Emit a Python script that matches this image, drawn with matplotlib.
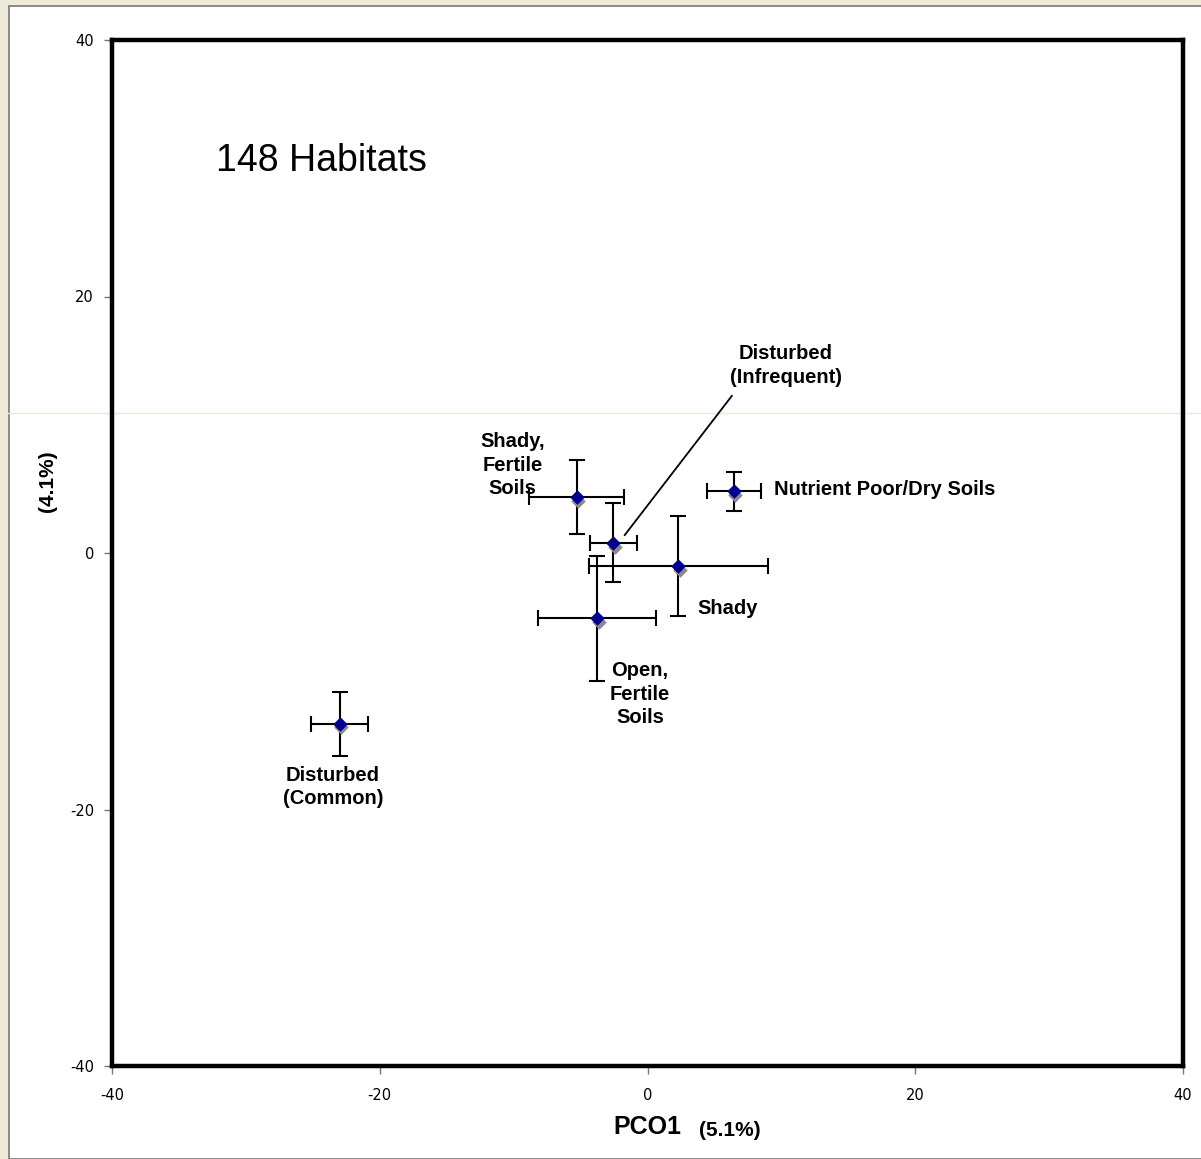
import matplotlib.pyplot as plt
from matplotlib.patches import Rectangle
from matplotlib.lines import Line2D

plt.rcParams['font.family'] = ['Liberation Sans', 'DejaVu Sans']
plt.rcParams['axes.unicode_minus'] = False

# group means and standard errors on PCO1 / PCO2
groups = ['Disturbed (Common)', 'Shady, Fertile Soils', 'Disturbed (Infrequent)',
          'Shady', 'Open, Fertile Soils', 'Nutrient Poor/Dry Soils']
pco1 = [-23.0, -5.3, -2.55, 2.3, -3.75, 6.45]
pco2 = [-13.3, 4.35, 0.8, -1.05, -5.1, 4.8]
err1 = [2.1, 3.55, 1.75, 6.7, 4.4, 2.0]
err2 = [2.5, 2.9, 3.1, 3.9, 4.9, 1.5]
ticks = [-40, -20, 0, 20, 40]

fig = plt.figure(figsize=(12.01, 11.59), dpi=100)
fig.patch.set_facecolor('#EEEADA')
fig.patches.append(Rectangle((9 / 1201, 0), 1, 1 - 6 / 1159, transform=fig.transFigure,
                             facecolor='white', edgecolor='#777777', linewidth=1.2, zorder=-2))
fig.lines.append(Line2D([0, 1], [1 - 413 / 1159] * 2, transform=fig.transFigure,
                        color='#EEEADA', linewidth=1, zorder=-1))

ax = fig.add_axes([112 / 1201, 1 - 1066 / 1159, 1071 / 1201, 1026 / 1159])
ax.set_facecolor('none')

ax.errorbar(pco1, pco2, xerr=err1, yerr=err2, fmt='none', ecolor='black',
            elinewidth=1.5, capsize=6, capthick=1.5, zorder=2)
# grey drop shadow behind the diamonds
ax.scatter([x + 0.12 for x in pco1], [y - 0.3 for y in pco2], marker='D', s=55,
           color='#8a8a8a', linewidths=0, zorder=3)
ax.scatter(pco1, pco2, marker='D', s=55, color='#000090', linewidths=0, zorder=4)

ax.set_xlim(-40, 40)
ax.set_ylim(-40, 40)
ax.set_xticks(ticks)
ax.set_yticks(ticks)
ax.tick_params(labelsize=10.5, length=6, width=1, color='#777777')
ax.tick_params(axis='x', pad=10)
ax.tick_params(axis='y', pad=7)
for lbl in ax.get_xticklabels() + ax.get_yticklabels():
    lbl.set_family('DejaVu Sans')
for s in ax.spines.values():
    s.set_linewidth(3.2)
    s.set_color('black')

lab = dict(fontsize=14.5, fontweight='bold', linespacing=1.32)
ax.text(-10.1, 6.85, 'Shady,\nFertile\nSoils', ha='center', va='center', **lab)
ax.text(10.35, 14.6, 'Disturbed\n(Infrequent)', ha='center', va='center', **lab)
ax.text(9.45, 4.95, 'Nutrient Poor/Dry Soils', ha='left', va='center', **lab)
ax.text(6.0, -4.35, 'Shady', ha='center', va='center', **lab)
ax.text(-0.55, -11.0, 'Open,\nFertile\nSoils', ha='center', va='center', **lab)
ax.text(-23.5, -18.25, 'Disturbed\n(Common)', ha='center', va='center', **lab)
ax.plot([-1.7, 6.3], [1.4, 12.25], color='black', linewidth=1.3, zorder=2)

ax.text(-32.2, 30.55, '148 Habitats', ha='left', va='center', fontsize=27)

fig.text(647 / 1201, 1 - 1127 / 1159, 'PCO1', ha='center', va='center',
         fontsize=18, fontweight='bold')
fig.text(730 / 1201, 1 - 1130 / 1159, '(5.1%)', ha='center', va='center',
         fontsize=15, fontweight='bold')
fig.text(47 / 1201, 1 - 481 / 1159, '(4.1%)', ha='center', va='center',
         fontsize=15, fontweight='bold', rotation=90)

fig.savefig('out.png', dpi=100, facecolor=fig.get_facecolor())
